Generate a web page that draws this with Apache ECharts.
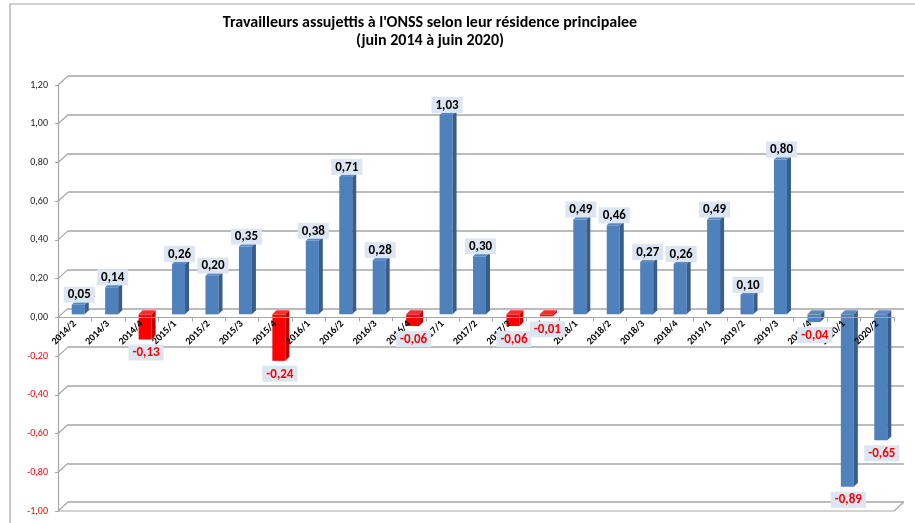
<!DOCTYPE html>
<html><head><meta charset="utf-8">
<script src="https://cdn.jsdelivr.net/npm/echarts@6/dist/echarts.min.js"></script>
<style>html,body{margin:0;padding:0;background:#fff}#c{width:915px;height:523px}</style>
</head><body><div id="c"></div>
<script>
const categories = ['2014/2','2014/3','2014/4','2015/1','2015/2','2015/3','2015/4','2016/1','2016/2','2016/3','2016/4','2017/1','2017/2','2017/3','2017/4','2018/1','2018/2','2018/3','2018/4','2019/1','2019/2','2019/3','2019/4','2020/1','2020/2'];
const values = [0.05, 0.14, -0.13, 0.26, 0.20, 0.35, -0.24, 0.38, 0.71, 0.28, -0.06, 1.03, 0.30, -0.06, -0.01, 0.49, 0.46, 0.27, 0.26, 0.49, 0.10, 0.80, -0.04, -0.89, -0.65];
const redCategories = ['2014/4','2015/4','2016/4','2017/3','2017/4'];
const yTicks = [-1.0, -0.8, -0.6, -0.4, -0.2, 0.0, 0.2, 0.4, 0.6, 0.8, 1.0, 1.2];
const titleLines = ["Travailleurs assujettis à l'ONSS selon leur résidence principalee", "(juin 2014 à juin 2020)"];

const FONT = "'Carlito','Liberation Sans',sans-serif";
const DX = 10, DY = 9;            // wall depth
const BAR_DX = 3.5, BAR_DY = -3, BAR_W = 13, BAR_D = 4;
const GRID_COL = '#A6A6A6';
const GRID_H = 426;
const fmt = v => Number(v).toFixed(2).replace('.', ',');

const yMin = yTicks[0], yMax = yTicks[yTicks.length - 1], yInt = 0.2;
// place the category axis where the value axis crosses zero
const zeroOffset = -GRID_H * (0 - yMin) / (yMax - yMin);

const chart = echarts.init(document.getElementById('c'), null, {renderer: 'canvas'});

function renderBars(params, api) {
  const i = api.value(0), v = api.value(1);
  const p0 = api.coord([i, 0]), p1 = api.coord([i, v]);
  const cx = p0[0] + BAR_DX, l = cx - BAR_W / 2, r = cx + BAR_W / 2;
  const yT = Math.min(p0[1], p1[1]) + BAR_DY, yB = Math.max(p0[1], p1[1]) + BAR_DY;
  const red = redCategories.indexOf(categories[i]) >= 0;
  const face = red ? '#FF0000' : '#4F81BD';
  const side = red ? '#B80000' : '#385D8A';
  const top = red ? '#FF2A2A' : '#5A8AC6';
  return {type: 'group', children: [
    {type: 'rect', shape: {x: l, y: yT, width: BAR_W, height: Math.max(yB - yT, 0.5)}, style: {fill: face}},
    {type: 'polygon', shape: {points: [[r, yT], [r + BAR_D, yT - BAR_D], [r + BAR_D, yB - BAR_D], [r, yB]]}, style: {fill: side}},
    {type: 'polygon', shape: {points: [[l, yT], [l + BAR_D, yT - BAR_D], [r + BAR_D, yT - BAR_D], [r, yT]]}, style: {fill: top}}
  ]};
}

function renderLabels(params, api) {
  const i = api.value(0), v = api.value(1);
  const p0 = api.coord([i, 0]), p1 = api.coord([i, v]);
  const cx = p0[0] + BAR_DX;
  const yT = Math.min(p0[1], p1[1]) + BAR_DY, yB = Math.max(p0[1], p1[1]) + BAR_DY;
  const neg = v < 0;
  return {type: 'text', x: cx + 1, y: neg ? yB + 5 : yT - 2,
    style: {text: fmt(v), fill: neg ? '#FF0000' : '#000', font: 'bold 13px ' + FONT,
      align: 'center', verticalAlign: neg ? 'top' : 'bottom',
      backgroundColor: '#DCE6F2', padding: [2, 4, 1, 4]}};
}

function renderWalls(params, api) {
  const t = api.value(1);
  const cs = params.coordSys;
  const y = api.coord([0, t])[1];
  const st = {stroke: GRID_COL, lineWidth: 1.2};
  const ch = [{type: 'line', shape: {x1: cs.x, y1: y, x2: cs.x + DX, y2: y - DY}, style: st}];
  if (t === yTicks[0]) {
    ch.push({type: 'line', shape: {x1: cs.x, y1: y, x2: cs.x + cs.width, y2: y}, style: st});
    ch.push({type: 'line', shape: {x1: cs.x + cs.width, y1: y, x2: cs.x + cs.width + DX, y2: y - DY}, style: st});
  }
  return {type: 'group', children: ch};
}

chart.setOption({
  animation: false,
  backgroundColor: '#fff',
  graphic: [
    {type: 'rect', shape: {x: 10, y: 4, width: 1000, height: 600}, style: {fill: 'none', stroke: '#A6A6A6', lineWidth: 1.2}, z: -10},
    {type: 'text', x: 430, y: 14, style: {text: titleLines.join('\n'), font: 'bold 16px ' + FONT, fill: '#000', align: 'center', lineHeight: 18}}
  ],
  grid: [
    {left: 58, top: 85, width: 836, height: GRID_H, containLabel: false, outerBoundsMode: 'none'},
    {left: 58 + DX, top: 85 - DY, width: 836, height: GRID_H, containLabel: false, outerBoundsMode: 'none'}
  ],
  xAxis: [
    {type: 'category', gridIndex: 0, data: categories, z: 3, position: 'bottom', offset: zeroOffset,
      axisLine: {onZero: false, lineStyle: {color: GRID_COL, width: 1.2}},
      axisTick: {show: true, interval: 0, length: 4, lineStyle: {color: GRID_COL}},
      axisLabel: {interval: 0, rotate: 45, fontSize: 10, fontWeight: 'bold', color: '#000', fontFamily: FONT, margin: 5},
      splitLine: {show: false}},
    {type: 'category', gridIndex: 1, data: categories, show: false}
  ],
  yAxis: [
    {type: 'value', gridIndex: 0, min: yMin, max: yMax, interval: yInt,
      axisLine: {show: true, lineStyle: {color: GRID_COL, width: 1.2}},
      axisTick: {show: true, length: 3, lineStyle: {color: GRID_COL}},
      axisLabel: {formatter: v => fmt(v), fontSize: 10, fontFamily: FONT, margin: 10,
        color: v => parseFloat(v) < -1e-9 ? '#FF0000' : '#222'},
      splitLine: {show: false}},
    {type: 'value', gridIndex: 1, min: yMin, max: yMax, interval: yInt,
      axisLine: {show: false}, axisTick: {show: false}, axisLabel: {show: false},
      splitLine: {show: true, lineStyle: {color: GRID_COL, width: 1.5}}}
  ],
  series: [
    {type: 'custom', xAxisIndex: 0, yAxisIndex: 0, z: 1, renderItem: renderWalls,
      data: yTicks.map(t => [0, t]), silent: true},
    {type: 'custom', xAxisIndex: 0, yAxisIndex: 0, z: 2, renderItem: renderBars,
      data: values.map((v, i) => [i, v])},
    {type: 'custom', xAxisIndex: 0, yAxisIndex: 0, z: 5, renderItem: renderLabels,
      data: values.map((v, i) => [i, v])}
  ]
});
</script></body></html>
